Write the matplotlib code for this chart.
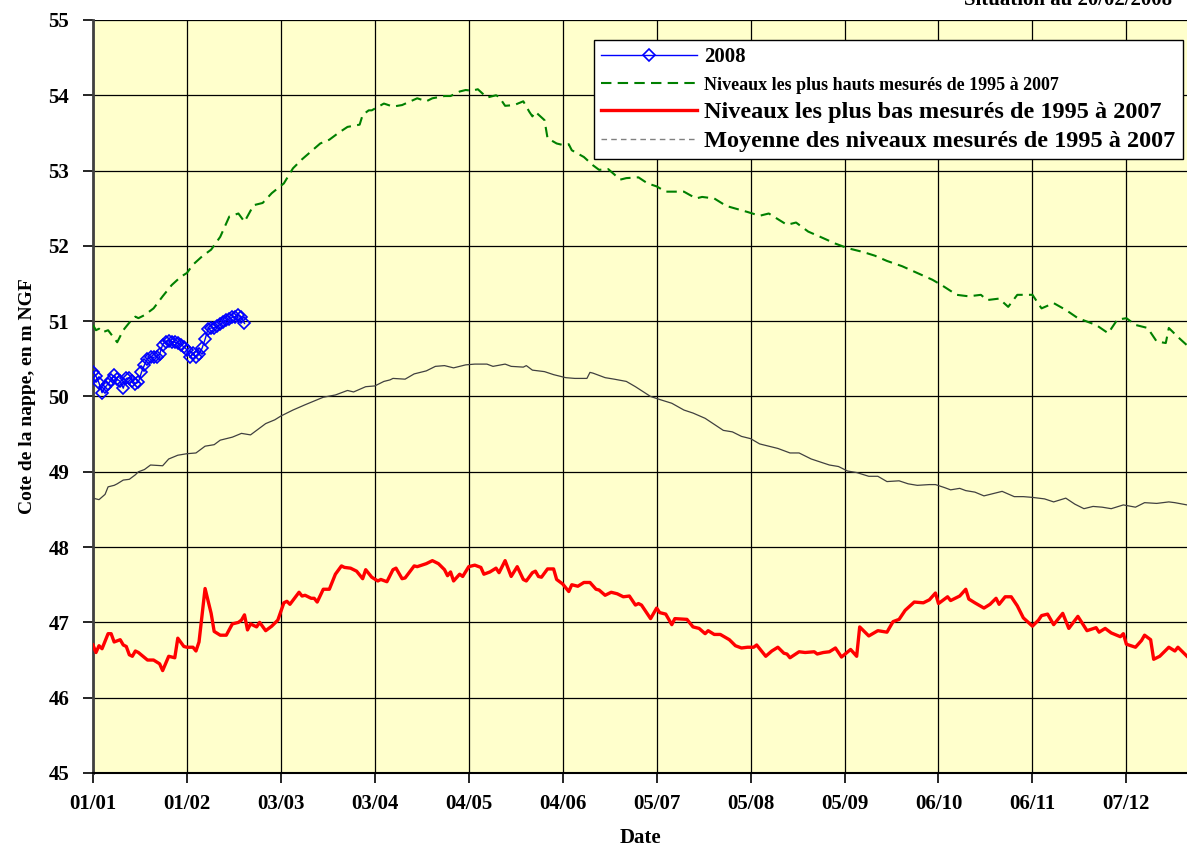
import matplotlib
matplotlib.use('Agg')
import matplotlib.pyplot as plt
from matplotlib.lines import Line2D

# jours depuis le 01/01 (annee 2008, bissextile)
TICK_DAYS = [0, 31, 62, 93, 124, 155, 186, 217, 248, 279, 310, 341]
TICK_LABELS = ['01/01', '01/02', '03/03', '03/04', '04/05', '04/06',
               '05/07', '05/08', '05/09', '06/10', '06/11', '07/12']

# 2008 : releves journaliers du 01/01 au 20/02
days_2008 = list(range(51))
niv_2008 = [50.33, 50.27, 50.18, 50.05, 50.12, 50.17, 50.22, 50.28, 50.23, 50.20,
            50.11, 50.24, 50.25, 50.21, 50.17, 50.19, 50.32, 50.42, 50.50, 50.52,
            50.52, 50.53, 50.56, 50.69, 50.73, 50.74, 50.73, 50.72, 50.71, 50.69,
            50.66, 50.62, 50.52, 50.58, 50.52, 50.56, 50.64, 50.76, 50.90, 50.91,
            50.91, 50.93, 50.96, 50.99, 51.01, 51.03, 51.05, 51.06, 51.08, 51.05,
            50.97]

# plus hauts niveaux 1995-2007
days_max = [0, 1, 2, 3, 5, 8, 10, 12, 14, 15, 17, 20, 23, 24, 26, 29, 31, 33, 36, 39,
            42, 45, 48, 50, 53, 56, 59, 63, 66, 69, 73, 75, 78, 81, 84, 88, 89, 91, 92, 96,
            99, 102, 107, 110, 112, 116, 118, 121, 123, 125, 127, 130, 133, 134, 136, 139,
            142, 144, 145, 146, 149, 150, 153, 155, 157, 158, 162, 165, 167, 170, 174, 176,
            180, 183, 186, 189, 195, 199, 201, 205, 209, 216, 220, 223, 229, 232, 236, 240,
            245, 249, 254, 258, 262, 267, 272, 277, 280, 285, 289, 293, 295, 299, 302, 305,
            310, 313, 317, 321, 325, 331, 335, 338, 341, 344, 348, 351, 354, 355, 358, 361]
niv_max = [50.95, 50.88, 50.90, 50.85, 50.88, 50.72, 50.88, 50.98, 51.06, 51.04,
           51.08, 51.17, 51.33, 51.38, 51.48, 51.59, 51.64, 51.75, 51.86, 51.95,
           52.12, 52.39, 52.43, 52.32, 52.54, 52.57, 52.70, 52.83, 53.03, 53.15,
           53.29, 53.36, 53.41, 53.50, 53.58, 53.61, 53.74, 53.80, 53.80, 53.89,
           53.85, 53.87, 53.96, 53.92, 53.96, 53.99, 53.99, 54.05, 54.07, 54.06,
           54.08, 53.97, 54.00, 53.98, 53.86, 53.87, 53.92, 53.78, 53.72, 53.78,
           53.67, 53.43, 53.36, 53.34, 53.35, 53.27, 53.18, 53.07, 53.01, 53.02,
           52.88, 52.90, 52.91, 52.83, 52.79, 52.72, 52.72, 52.63, 52.65, 52.63,
           52.53, 52.45, 52.40, 52.43, 52.28, 52.31, 52.19, 52.12, 52.03, 51.97,
           51.92, 51.87, 51.80, 51.73, 51.64, 51.55, 51.48, 51.35, 51.33, 51.35,
           51.28, 51.30, 51.19, 51.35, 51.35, 51.17, 51.24, 51.15, 51.04, 50.95,
           50.84, 51.02, 51.04, 50.95, 50.91, 50.73, 50.71, 50.91, 50.79, 50.68]

# plus bas niveaux 1995-2007
days_min = [0, 1, 2, 3, 5, 6, 7, 9, 10, 11, 12, 13, 14, 15, 18, 20, 22, 23, 25, 27,
            28, 30, 31, 33, 34, 35, 37, 39, 40, 42, 44, 46, 48, 49, 50, 51, 52, 54, 55, 57,
            59, 61, 63, 64, 65, 68, 69, 70, 72, 73, 74, 76, 78, 80, 82, 83, 85, 87, 89, 90,
            92, 94, 95, 97, 99, 100, 102, 103, 106, 107, 110, 112, 114, 116, 117, 118, 119,
            121, 122, 124, 126, 128, 129, 131, 133, 134, 136, 138, 140, 142, 143, 145, 146,
            147, 148, 150, 152, 153, 155, 157, 158, 160, 162, 164, 166, 167, 169, 171, 173,
            175, 177, 179, 180, 181, 183, 184, 186, 187, 189, 191, 192, 196, 198, 200, 202,
            203, 205, 207, 210, 212, 214, 216, 218, 219, 222, 224, 226, 228, 229, 230, 233,
            235, 238, 239, 241, 243, 245, 247, 250, 252, 253, 256, 259, 262, 264, 266, 268,
            271, 274, 276, 278, 279, 282, 283, 286, 288, 289, 291, 294, 296, 298, 299, 301,
            303, 305, 307, 310, 312, 313, 315, 317, 320, 322, 325, 328, 331, 332, 334, 336,
            339, 340, 341, 344, 346, 347, 349, 350, 352, 355, 357, 358, 361]
niv_min = [46.70, 46.60, 46.69, 46.65, 46.85, 46.85, 46.74, 46.77, 46.70, 46.68,
           46.57, 46.55, 46.62, 46.60, 46.50, 46.50, 46.45, 46.36, 46.55, 46.53,
           46.79, 46.68, 46.67, 46.67, 46.62, 46.74, 47.45, 47.12, 46.88, 46.83,
           46.83, 46.98, 47.00, 47.03, 47.10, 46.90, 46.98, 46.94, 47.00, 46.89,
           46.95, 47.03, 47.26, 47.28, 47.24, 47.40, 47.35, 47.36, 47.32, 47.32,
           47.27, 47.44, 47.44, 47.64, 47.75, 47.73, 47.72, 47.68, 47.58, 47.70,
           47.60, 47.55, 47.57, 47.54, 47.70, 47.72, 47.58, 47.59, 47.75, 47.74,
           47.78, 47.82, 47.78, 47.70, 47.62, 47.67, 47.55, 47.64, 47.61, 47.74,
           47.76, 47.73, 47.64, 47.67, 47.72, 47.66, 47.82, 47.61, 47.74, 47.57,
           47.55, 47.66, 47.68, 47.61, 47.60, 47.71, 47.71, 47.57, 47.51, 47.41,
           47.50, 47.48, 47.53, 47.53, 47.44, 47.43, 47.36, 47.40, 47.38, 47.34,
           47.35, 47.23, 47.25, 47.23, 47.11, 47.05, 47.19, 47.13, 47.11, 46.97,
           47.05, 47.04, 46.94, 46.92, 46.85, 46.89, 46.84, 46.84, 46.77, 46.69,
           46.66, 46.67, 46.67, 46.70, 46.55, 46.62, 46.67, 46.59, 46.58, 46.53,
           46.61, 46.60, 46.61, 46.58, 46.60, 46.61, 46.66, 46.54, 46.64, 46.55,
           46.94, 46.82, 46.89, 46.87, 47.01, 47.04, 47.16, 47.27, 47.26, 47.30,
           47.39, 47.25, 47.34, 47.29, 47.35, 47.44, 47.31, 47.26, 47.19, 47.24,
           47.32, 47.24, 47.34, 47.34, 47.22, 47.06, 46.95, 47.03, 47.09, 47.11,
           46.97, 47.12, 46.92, 47.08, 46.89, 46.93, 46.87, 46.92, 46.86, 46.81,
           46.85, 46.71, 46.67, 46.76, 46.83, 46.77, 46.51, 46.55, 46.67, 46.62,
           46.67, 46.55]

# moyenne 1995-2007
days_moy = [0, 2, 4, 5, 7, 8, 10, 12, 14, 15, 17, 19, 23, 25, 28, 31, 34, 37, 40, 42,
            46, 49, 52, 54, 57, 60, 62, 66, 70, 73, 76, 80, 84, 86, 90, 93, 96, 98, 99, 103,
            106, 110, 113, 116, 119, 123, 126, 130, 132, 136, 138, 142, 143, 145, 149, 152,
            156, 159, 163, 164, 165, 169, 172, 176, 179, 184, 187, 191, 195, 198, 202, 205,
            208, 211, 214, 217, 220, 223, 226, 230, 233, 237, 240, 243, 246, 249, 252, 256,
            259, 262, 266, 269, 272, 276, 278, 281, 283, 286, 288, 291, 294, 297, 300, 304,
            307, 310, 314, 317, 321, 324, 327, 330, 333, 336, 340, 344, 347, 351, 355, 357,
            361]
niv_moy = [48.65, 48.63, 48.70, 48.80, 48.82, 48.84, 48.89, 48.90, 48.96, 49.00,
           49.03, 49.09, 49.08, 49.17, 49.22, 49.24, 49.25, 49.34, 49.36, 49.42,
           49.46, 49.51, 49.49, 49.55, 49.64, 49.69, 49.74, 49.82, 49.89, 49.94,
           49.99, 50.02, 50.08, 50.06, 50.13, 50.14, 50.20, 50.22, 50.24, 50.23,
           50.30, 50.34, 50.40, 50.41, 50.38, 50.42, 50.43, 50.43, 50.40, 50.43,
           50.40, 50.39, 50.41, 50.35, 50.33, 50.29, 50.25, 50.24, 50.24, 50.32,
           50.31, 50.25, 50.23, 50.20, 50.13, 50.00, 49.96, 49.91, 49.82, 49.78,
           49.71, 49.63, 49.55, 49.53, 49.47, 49.44, 49.37, 49.34, 49.31, 49.25,
           49.25, 49.17, 49.13, 49.09, 49.07, 49.01, 48.99, 48.94, 48.94, 48.87,
           48.88, 48.84, 48.82, 48.83, 48.83, 48.79, 48.76, 48.78, 48.75, 48.73,
           48.68, 48.71, 48.74, 48.67, 48.67, 48.66, 48.64, 48.60, 48.65, 48.57,
           48.51, 48.54, 48.53, 48.51, 48.56, 48.53, 48.59, 48.58, 48.60, 48.59,
           48.56]

plt.rcParams['font.family'] = ['Liberation Serif', 'DejaVu Serif']
plt.rcParams['font.weight'] = 'bold'

fig = plt.figure(figsize=(11.87, 8.5), dpi=100)
ax = fig.add_axes([0.0783, 0.0906, 0.9217, 0.8859])
ax.set_facecolor('#FFFFCC')

ax.plot(days_moy, niv_moy, color='#404040', lw=0.9, zorder=3)
ax.plot(days_min, niv_min, color='#FF0000', lw=2.4, zorder=4)
ax.plot(days_max, niv_max, color='#008000', lw=1.5, dashes=(5, 3), zorder=4)
ax.plot(days_2008, niv_2008, color='#0000FF', lw=1.0, marker='D', ms=6.5,
        mfc='none', mec='#0000FF', mew=1.2, zorder=5)

ax.set_xlim(0, 361)
ax.set_ylim(45, 55)
ax.set_xticks(TICK_DAYS)
ax.set_xticklabels(TICK_LABELS)
ax.set_yticks(range(45, 56))
ax.tick_params(axis='both', labelsize=15, length=7, width=1.2, direction='out')
ax.tick_params(axis='y', pad=10)
ax.tick_params(axis='x', pad=8)
ax.grid(True, color='black', lw=0.9)
ax.set_axisbelow(True)
for side in ['top', 'right']:
    ax.spines[side].set_visible(False)
ax.spines['left'].set_color('#404040')
ax.spines['left'].set_linewidth(2)
ax.spines['bottom'].set_linewidth(1.5)

ax.set_xlabel('Date', fontsize=15, fontweight='bold', labelpad=10)
ax.set_ylabel('Cote de la nappe, en m NGF', fontsize=14, fontweight='bold', labelpad=9)

handles = [
    Line2D([], [], color='#0000FF', lw=1.0, marker='D', ms=6.5, mfc='none', mew=1.2),
    Line2D([], [], color='#008000', lw=1.5, dashes=(5, 3)),
    Line2D([], [], color='#FF0000', lw=2.4),
    Line2D([], [], color='#808080', lw=1.0, dashes=(4, 3)),
]
labels = ['2008',
          'Niveaux les plus hauts mesurés de 1995 à 2007',
          'Niveaux les plus bas mesurés de 1995 à 2007',
          'Moyenne des niveaux mesurés de 1995 à 2007']
leg = ax.legend(handles, labels, loc='upper right', bbox_to_anchor=(0.996, 0.9734),
                borderaxespad=0, fontsize=15, handlelength=4.6, handletextpad=0.35,
                labelspacing=0.38, fancybox=False, framealpha=1, edgecolor='black',
                borderpad=0.35)
leg.get_frame().set_linewidth(1.0)
for txt, size in zip(leg.get_texts(), [15, 13, 17.5, 17.5]):
    txt.set_fontsize(size)
    txt.set_fontweight('bold')

fig.text(1172 / 1187, 1 - 5 / 850, 'Situation au 20/02/2008', ha='right', va='baseline',
         fontsize=15, fontweight='bold')

fig.savefig('out.png', dpi=100)
